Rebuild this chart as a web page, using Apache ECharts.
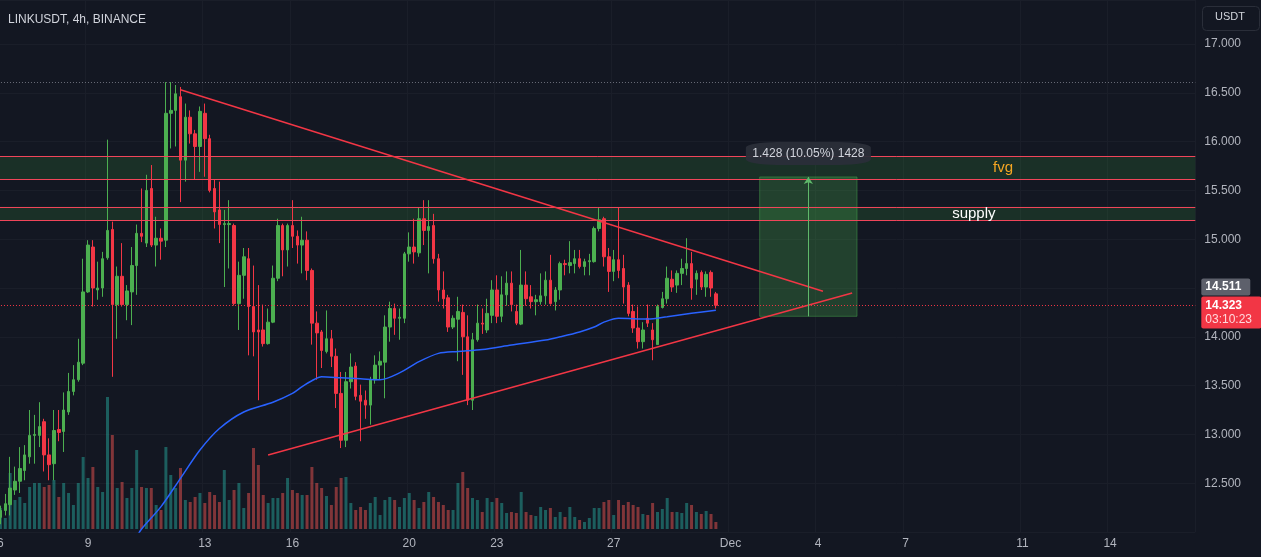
<!DOCTYPE html>
<html><head><meta charset="utf-8">
<script src="https://cdn.jsdelivr.net/npm/echarts@6/dist/echarts.min.js"></script>
<style>html,body{margin:0;padding:0;background:#131722;}#c{width:1261px;height:557px;}</style>
</head><body><div id="c"></div>
<script>
// 4h candles starting Nov 6 00:00 (index 0); slots continue to mid-December
const slotCount = 246;
const categories = Array.from({length: slotCount}, (_, i) => String(i));
const tickIndex  = [0, 18, 42, 60, 84, 102, 126, 150, 168, 186, 210, 228];
const tickLabels = ['6', '9', '13', '16', '20', '23', '27', 'Dec', '4', '7', '11', '14'];

const opens = [12.15,12.22,12.28,12.43,12.52,12.63,12.77,12.99,12.99,13.13,12.79,12.70,13.05,13.03,13.23,13.44,13.56,13.73,14.46,14.92,
14.48,14.50,14.81,15.10,14.33,14.62,14.33,14.46,14.73,15.06,14.96,15.52,14.94,15.01,14.99,16.29,16.32,16.46,15.81,16.25,
16.08,15.95,16.29,16.03,15.52,15.30,15.15,15.15,15.14,14.34,14.63,14.80,14.31,14.07,14.07,13.93,14.15,14.60,15.14,14.89,
15.14,15.03,14.94,14.99,14.68,14.14,14.05,13.85,13.98,13.80,13.42,12.94,13.54,13.70,13.40,13.35,13.30,13.56,13.71,13.74,
14.10,14.29,14.19,14.19,14.85,14.92,14.86,15.21,15.09,15.14,14.80,14.48,14.40,14.10,14.18,14.25,14.00,13.35,13.97,14.14,
14.07,14.22,14.48,14.21,14.43,14.55,14.26,14.13,14.53,14.41,14.36,14.36,14.42,14.58,14.36,14.48,14.75,14.73,14.75,14.80,
14.72,14.77,14.77,15.11,15.21,14.82,14.67,14.79,14.70,14.53,14.26,14.09,13.95,14.19,14.07,13.92,14.30,14.39,14.59,14.53,
14.65,14.70,14.75,14.59,14.66,14.51,14.66,14.44];
const closes = [12.22,12.29,12.45,12.52,12.65,12.79,12.99,13.00,13.08,12.79,12.69,13.04,13.02,13.25,13.44,13.56,13.74,14.46,14.94,14.50,
14.50,14.80,15.09,14.33,14.62,14.33,14.47,14.73,15.06,15.03,15.50,14.94,15.01,14.98,16.29,16.32,16.49,15.81,16.25,16.08,
15.95,16.31,16.03,15.50,15.28,15.15,15.16,15.16,14.34,14.63,14.82,14.31,14.05,14.05,13.93,14.15,14.60,15.14,14.89,15.14,
15.03,14.94,14.99,14.68,14.14,14.04,13.86,13.98,13.80,13.42,12.94,13.54,13.69,13.39,13.34,13.30,13.56,13.71,13.75,14.10,
14.29,14.19,14.20,14.85,14.92,14.87,15.21,15.09,15.13,14.80,14.48,14.39,14.10,14.19,14.26,14.00,13.35,13.97,14.14,14.13,
14.24,14.48,14.21,14.43,14.55,14.33,14.14,14.53,14.39,14.36,14.38,14.42,14.58,14.34,14.48,14.75,14.74,14.76,14.80,14.72,
14.77,14.78,15.11,15.20,14.82,14.67,14.79,14.68,14.51,14.24,14.09,13.95,14.07,14.14,13.97,14.31,14.39,14.60,14.51,14.65,
14.70,14.75,14.50,14.65,14.51,14.64,14.50,14.323];
const highs = [12.27,12.39,12.77,12.67,12.87,12.89,13.25,13.20,13.33,13.16,12.96,13.25,13.25,13.43,13.63,13.71,13.98,14.80,14.99,14.99,
14.77,14.87,16.02,15.18,14.72,14.96,14.53,14.92,15.15,15.52,15.66,15.76,15.23,15.11,16.61,16.61,16.58,16.56,16.39,16.32,
16.12,16.36,16.39,16.07,15.61,15.59,15.30,15.40,15.16,14.77,14.91,14.91,14.73,14.53,14.33,14.29,14.73,15.21,15.16,15.16,
15.40,15.09,15.23,15.08,14.70,14.26,14.07,14.27,14.07,13.88,13.64,13.64,13.83,13.74,13.51,13.45,13.59,13.81,13.85,14.22,
14.36,14.34,14.29,14.87,15.07,15.21,15.32,15.40,15.40,15.26,14.85,14.67,14.43,14.22,14.41,14.33,14.22,14.04,14.33,14.29,
14.39,14.58,14.63,14.62,14.67,14.67,14.33,14.89,14.67,14.53,14.43,14.65,14.67,14.84,14.51,14.77,14.79,14.98,14.89,14.89,
14.80,14.85,15.13,15.33,15.23,14.91,14.89,15.32,14.84,14.56,14.33,14.31,14.15,14.33,14.14,14.33,14.46,14.72,14.68,14.68,
14.80,15.01,14.87,14.68,14.68,14.67,14.68,14.46];
const lows = [12.08,12.17,12.17,12.38,12.40,12.53,12.70,12.70,12.87,12.62,12.53,12.53,12.93,12.82,13.20,13.40,13.54,13.71,14.45,14.31,
14.38,14.41,14.79,13.59,13.98,14.31,14.17,14.12,14.43,14.97,14.92,14.92,14.72,14.79,14.92,15.93,15.95,15.38,15.59,15.98,
15.61,15.69,15.64,15.48,15.11,14.96,14.51,14.70,14.32,14.07,14.39,13.81,13.80,13.35,13.90,13.92,14.14,14.57,14.62,14.72,
14.91,14.75,14.65,14.58,13.92,13.56,13.68,13.83,13.69,13.27,12.86,12.87,13.47,13.35,12.93,13.16,13.10,13.52,13.56,13.37,
13.95,14.02,13.97,14.14,14.77,14.75,14.82,14.94,14.65,14.75,14.36,14.29,14.05,14.08,13.75,13.61,13.30,13.25,13.95,14.03,
14.04,14.14,14.14,14.15,14.32,14.26,14.12,14.12,14.32,14.29,14.22,14.33,14.33,14.33,14.27,14.38,14.63,14.65,14.65,14.70,
14.63,14.63,14.76,15.08,14.72,14.46,14.57,14.60,14.34,14.21,14.04,13.88,13.88,14.10,13.76,13.92,14.29,14.34,14.46,14.45,
14.53,14.63,14.38,14.43,14.48,14.41,14.41,14.29];
const volumes = [21,11,56,29,32,26,42,46,46,42,44,49,32,46,36,24,46,72,51,62,
42,37,132,94,41,47,31,41,79,42,41,41,24,19,82,54,41,61,29,27,
32,36,26,37,34,27,59,29,39,46,21,36,81,64,34,26,31,31,36,51,
39,36,34,34,62,46,41,33,24,42,51,52,26,19,22,19,26,32,14,29,
32,29,22,31,36,29,21,27,37,32,27,24,19,19,46,57,41,31,29,17,
31,27,31,26,16,17,16,37,17,14,13,22,19,21,12,17,12,22,12,9,
7,11,21,21,27,29,14,29,24,27,24,22,15,14,26,17,20,31,17,17,
16,26,24,17,15,18,15,7];
// moving average: [candle index, price]
const maPoints = [[28,11.95],[29,12.03],[33,12.26],[37,12.55],[41,12.84],[45,13.06],[50,13.23],[56,13.33],[60,13.42],[62,13.49],
[64,13.55],[66,13.59],[70,13.58],[74,13.57],[78,13.56],[82,13.63],[86,13.745],[90,13.83],[94,13.85],[99,13.87],
[105,13.916],[112,13.967],[115,14.0],[119,14.05],[122,14.10],[124,14.15],[127,14.19],[133,14.182],[137,14.206],[142,14.241],[147,14.272]];
// drawings
const upperTrend = [[37,16.531],[169,14.466]];
const lowerTrend = [[55,12.789],[175,14.449]];
const fvgZone = [15.613, 15.845];
const supplyZone = [15.190, 15.333];
const highLine = 16.61;
const lastPrice = 14.323;
const lastTagCenter = 14.249;
const greyPrice = 14.511;
const rangeBox = {x0: 156, x1: 176, xMid: 166, low: 14.21, high: 15.638};

const candleData = opens.map((o, i) => [o, closes[i], lows[i], highs[i]]);
const volData = volumes.map((v, i) => ({
  value: v,
  itemStyle: {color: closes[i] >= opens[i] ? 'rgba(38,166,154,0.5)' : 'rgba(239,83,80,0.5)'}
}));
const tickSet = new Set(tickIndex);
const tickMap = {}; tickIndex.forEach((t, k) => tickMap[t] = tickLabels[k]);

const gridL = -2.03, gridR = 65.7;
const font = 'Liberation Sans, Arial, sans-serif';
const hidden = {color: 'rgba(0,0,0,0)', width: 0, type: 'solid'};
const chart = echarts.init(document.getElementById('c'), null, {renderer: 'canvas'});
chart.setOption({
  backgroundColor: '#131722',
  animation: false,
  title: {text: 'LINKUSDT, 4h, BINANCE', left: 3, top: 9,
    textStyle: {color: '#d1d4dc', fontSize: 12, fontWeight: 'normal', fontFamily: font}},
  graphic: [
    {type: 'rect', left: 1200, top: 4, shape: {width: 57, height: 24, r: 4},
     style: {fill: 'none', stroke: '#2a2e39', lineWidth: 1}},
    {type: 'text', left: 1215, top: 11, style: {text: 'USDT', fill: '#d1d4dc', font: '11px ' + font}}
  ],
  grid: [
    {left: gridL, right: gridR, top: 0, bottom: 25, outerBoundsMode: 'none', containLabel: false},
    {left: gridL, right: gridR, bottom: 28, height: 200, outerBoundsMode: 'none', containLabel: false}
  ],
  xAxis: [
    {type: 'category', data: categories, gridIndex: 0, boundaryGap: true,
     axisLine: {show: false}, axisTick: {show: false},
     axisLabel: {interval: (idx) => tickSet.has(idx), formatter: (v, idx) => tickMap[idx] || '',
       color: '#b2b5be', fontSize: 12, margin: 6, fontFamily: font},
     splitLine: {show: true, interval: (idx) => tickSet.has(idx), lineStyle: {color: '#1a1e29', width: 1}}},
    {type: 'category', data: categories, gridIndex: 1, boundaryGap: true, show: false}
  ],
  yAxis: [
    {type: 'value', gridIndex: 0, position: 'right', min: 12, max: 17.451, interval: 0.5,
     axisLine: {show: false}, axisTick: {show: false},
     axisLabel: {color: '#b2b5be', fontSize: 12, margin: 9, fontFamily: font,
       formatter: (v) => {
         const onTick = Math.abs(v * 2 - Math.round(v * 2)) < 1e-6;
         if (!onTick || v < 12.1 || Math.abs(v - 14.5) < 1e-6) return '';
         return v.toFixed(3);
       }},
     splitLine: {show: true, lineStyle: {color: '#1a1e29', width: 1}}},
    {type: 'value', gridIndex: 1, min: 0, max: 200, show: false, splitLine: {show: false}}
  ],
  series: [
    {
      name: 'zones', type: 'line', data: [], xAxisIndex: 0, yAxisIndex: 0, z: 1,
      markArea: {silent: true, itemStyle: {color: 'rgba(56,142,60,0.22)'},
        data: [[{yAxis: fvgZone[1]}, {yAxis: fvgZone[0]}], [{yAxis: supplyZone[1]}, {yAxis: supplyZone[0]}]]},
      markLine: {silent: true, symbol: ['none', 'none'], label: {show: false},
        data: [
          {yAxis: fvgZone[0], lineStyle: {color: '#f0455a', width: 1, type: 'solid'}},
          {yAxis: fvgZone[1], lineStyle: {color: '#f0455a', width: 1, type: 'solid'}},
          {yAxis: supplyZone[0], lineStyle: {color: '#f0455a', width: 1, type: 'solid'}},
          {yAxis: supplyZone[1], lineStyle: {color: '#f0455a', width: 1, type: 'solid'}},
          {yAxis: highLine, lineStyle: {color: '#6a6d78', width: 1, type: [1, 2]}}
        ]},
      markPoint: {silent: true, symbolSize: 0,
        data: [
          {coord: [206, (fvgZone[0] + fvgZone[1]) / 2], label: {show: true, position: 'inside', formatter: 'fvg',
            color: '#f5a623', fontSize: 15, fontFamily: font}},
          {coord: [200, (supplyZone[0] + supplyZone[1]) / 2], label: {show: true, position: 'inside', formatter: 'supply',
            color: '#ffffff', fontSize: 15, fontFamily: font}}
        ]}
    },
    {
      name: 'priceTags', type: 'line', data: [], xAxisIndex: 0, yAxisIndex: 0, z: 6,
      markLine: {silent: true, symbol: ['none', 'none'],
        data: [
          {yAxis: lastPrice, lineStyle: {color: '#f23645', width: 1, type: [1, 2]}, label: {show: false}},
          {yAxis: lastTagCenter, lineStyle: hidden,
           label: {show: true, position: 'end', distance: 6, formatter: '14.323\n{t|03:10:23}', color: '#ffffff',
             backgroundColor: '#f23645', padding: [2, 4, 2, 4], width: 52, fontSize: 12, fontWeight: 'bold',
             fontFamily: font, lineHeight: 14, borderRadius: 2, verticalAlign: 'middle',
             rich: {t: {color: '#ffd9dc', fontSize: 12, fontWeight: 'normal', fontFamily: font, lineHeight: 14}}}},
          {yAxis: greyPrice, lineStyle: hidden,
           label: {show: true, position: 'end', distance: 6, formatter: '14.511', color: '#ffffff',
             backgroundColor: '#5d606b', padding: [2, 4, 2, 4], width: 41, fontSize: 12, fontWeight: 'bold',
             fontFamily: font, lineHeight: 13, borderRadius: 2}}
        ]}
    },
    {
      name: 'candles', type: 'candlestick', data: candleData, xAxisIndex: 0, yAxisIndex: 0, z: 2,
      barWidth: 3,
      itemStyle: {color: '#4caf50', color0: '#f23645', borderColor: '#4caf50', borderColor0: '#f23645', borderWidth: 1}
    },
    {
      name: 'volume', type: 'bar', data: volData, xAxisIndex: 1, yAxisIndex: 1, barWidth: 3, z: 1
    },
    {
      name: 'ma', type: 'line', data: maPoints, xAxisIndex: 0, yAxisIndex: 0, z: 3,
      showSymbol: false, smooth: 0.3, lineStyle: {color: '#2962ff', width: 1.5}, clip: true
    },
    {
      name: 'trend', type: 'line', data: [], xAxisIndex: 0, yAxisIndex: 0, z: 3,
      markLine: {silent: true, symbol: ['none', 'none'], label: {show: false},
        lineStyle: {color: '#f23645', width: 1.5, type: 'solid'},
        data: [
          [{coord: upperTrend[0]}, {coord: upperTrend[1]}],
          [{coord: lowerTrend[0]}, {coord: lowerTrend[1]}]
        ]}
    },
    {
      name: 'range', type: 'line', data: [], xAxisIndex: 0, yAxisIndex: 0, z: 5,
      markArea: {silent: true, itemStyle: {color: 'rgba(76,175,80,0.28)', borderColor: 'rgba(76,175,80,0.45)', borderWidth: 1},
        data: [[{coord: [rangeBox.x0, rangeBox.high]}, {coord: [rangeBox.x1, rangeBox.low]}]]},
      markLine: {silent: true, symbol: ['none', 'arrow'], symbolSize: 7, label: {show: false},
        lineStyle: {color: '#5fb86a', width: 1, type: 'solid'},
        data: [[{coord: [rangeBox.xMid, rangeBox.low]}, {coord: [rangeBox.xMid, rangeBox.high]}]]},
      markPoint: {silent: true, symbol: 'roundRect', symbolSize: [125, 23],
        itemStyle: {color: 'rgba(42,46,57,0.95)'},
        data: [{coord: [rangeBox.xMid, 15.878], label: {show: true, position: 'inside',
          formatter: '1.428 (10.05%) 1428', color: '#d1d4dc', fontSize: 12, fontFamily: font}}]}
    }
  ]
});
</script></body></html>
